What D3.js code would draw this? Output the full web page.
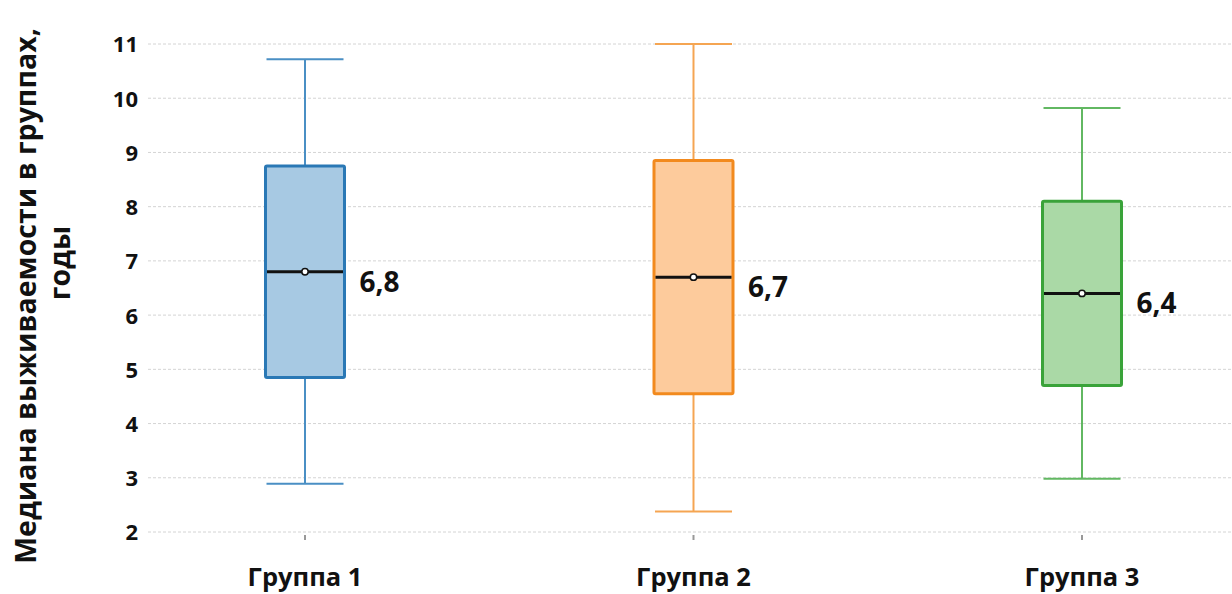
<!DOCTYPE html>
<html>
<head>
<meta charset="utf-8">
<script src="https://cdn.jsdelivr.net/npm/d3@7"></script>
<style>
  html, body { margin: 0; padding: 0; background: #fff; }
  svg { display: block; }
  text { font-family: "Open Sans", "Noto Sans", sans-serif; font-weight: 700; fill: #111; }
</style>
</head>
<body>
<svg id="chart" width="1232" height="594"></svg>
<script>
// ---- data ----
const groups = ["Группа 1", "Группа 2", "Группа 3"];
const whiskerLow  = [2.89, 2.38, 2.98];
const q1          = [4.85, 4.55, 4.70];
const medians     = [6.8, 6.7, 6.4];
const q3          = [8.75, 8.85, 8.10];
const whiskerHigh = [10.72, 11.0, 9.82];
const medianLabels = ["6,8", "6,7", "6,4"];
const yTicks = [2, 3, 4, 5, 6, 7, 8, 9, 10, 11];
const yTitleLines = ["Медиана выживаемости в группах,", "годы"];

const strokeColors  = ["#2a78b5", "#f28a1e", "#3aa33a"];
const whiskerColors = ["#4a8fc4", "#f5a552", "#62b862"];
const fillColors    = ["#a7c9e3", "#fdcb9c", "#aad9a6"];

// ---- layout ----
const svg = d3.select("#chart");
const plotLeft = 148, plotRight = 1232;
const y = d3.scaleLinear().domain([2, 11]).range([532, 44]);
const x = d3.scalePoint().domain(groups).range([305, 1082]);
const boxW = 79;

// grid
svg.append("g").selectAll("line").data(yTicks).join("line")
  .attr("x1", plotLeft).attr("x2", plotRight)
  .attr("y1", d => y(d)).attr("y2", d => y(d))
  .attr("stroke", "#d4d4d4").attr("stroke-width", 1).attr("stroke-dasharray", "3,2");

// y axis labels
const yAxis = d3.axisLeft(y).tickValues(yTicks).tickSize(0).tickPadding(0).tickFormat(d3.format("d"));
const yg = svg.append("g").attr("transform", "translate(138,0)").call(yAxis);
yg.select(".domain").remove();
yg.selectAll("text").attr("font-size", 22).attr("font-family", "'Open Sans', sans-serif")
  .attr("font-weight", 700).attr("fill", "#111").attr("dy", "0.36em");

// x axis small ticks
svg.append("g").selectAll("line").data(groups).join("line")
  .attr("x1", d => x(d)).attr("x2", d => x(d))
  .attr("y1", 535).attr("y2", 540)
  .attr("stroke", "#999").attr("stroke-width", 2);

// x labels
svg.append("g").selectAll("text").data(groups).join("text")
  .attr("x", d => x(d)).attr("y", 586)
  .attr("text-anchor", "middle").attr("font-size", 25.5)
  .text(d => d);

// boxes
const idx = d3.range(groups.length);
const g = svg.append("g");
idx.forEach(i => {
  const cx = x(groups[i]);
  const gg = g.append("g");
  // whiskers
  gg.append("line").attr("x1", cx).attr("x2", cx)
    .attr("y1", y(whiskerHigh[i])).attr("y2", y(q3[i]))
    .attr("stroke", whiskerColors[i]).attr("stroke-width", 2);
  gg.append("line").attr("x1", cx).attr("x2", cx)
    .attr("y1", y(q1[i])).attr("y2", y(whiskerLow[i]))
    .attr("stroke", whiskerColors[i]).attr("stroke-width", 2);
  [whiskerHigh[i], whiskerLow[i]].forEach(v => {
    gg.append("line").attr("x1", cx - boxW / 2 + 1).attr("x2", cx + boxW / 2 - 1)
      .attr("y1", y(v)).attr("y2", y(v))
      .attr("stroke", whiskerColors[i]).attr("stroke-width", 2);
  });
  // box
  gg.append("rect").attr("x", cx - boxW / 2).attr("width", boxW)
    .attr("y", y(q3[i])).attr("height", y(q1[i]) - y(q3[i]))
    .attr("fill", fillColors[i]).attr("stroke", strokeColors[i]).attr("stroke-width", 3)
    .attr("rx", 1.5);
  // median
  gg.append("line").attr("x1", cx - boxW / 2 + 1.5).attr("x2", cx + boxW / 2 - 1.5)
    .attr("y1", y(medians[i])).attr("y2", y(medians[i]))
    .attr("stroke", "#111").attr("stroke-width", 3);
  gg.append("circle").attr("cx", cx).attr("cy", y(medians[i])).attr("r", 3.2)
    .attr("fill", "#fff").attr("stroke", "#111").attr("stroke-width", 1.5);
  // label
  gg.append("text").attr("x", cx + boxW / 2 + 15).attr("y", y(medians[i]) + 20)
    .attr("font-size", 28).text(medianLabels[i]);
});

// y title
svg.append("text").attr("transform", "translate(36,296) rotate(-90)")
  .attr("text-anchor", "middle").attr("font-size", 28.5).text(yTitleLines[0]);
svg.append("text").attr("transform", "translate(70,263) rotate(-90)")
  .attr("text-anchor", "middle").attr("font-size", 28.5).text(yTitleLines[1]);
</script>
</body>
</html>
